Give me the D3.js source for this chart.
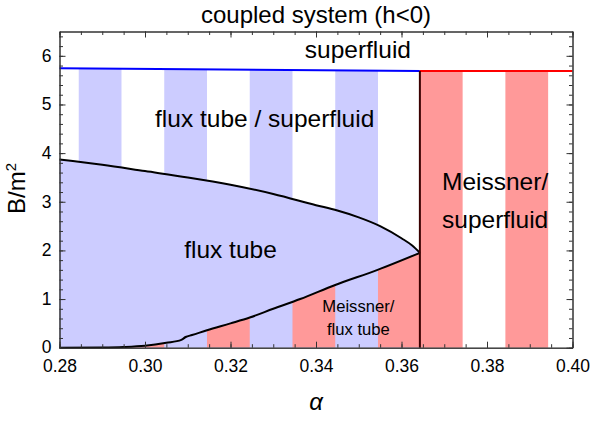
<!DOCTYPE html>
<html>
<head>
<meta charset="utf-8">
<script src="https://cdn.jsdelivr.net/npm/d3@7"></script>
<style>
  body { margin: 0; background: #fff; }
  svg { font-family: "Liberation Sans", Arial, sans-serif; }
  .axis path, .axis line { stroke: #333; }
  .axis text { font-size: 17.5px; fill: #000; }
  .region-label { font-size: 24.5px; fill: #000; text-anchor: middle; }
</style>
</head>
<body>
<div id="chart"></div>
<script>
// ---- data ----
const upperAlpha = [0.28, 0.29, 0.30, 0.31, 0.32, 0.33, 0.34, 0.345, 0.35, 0.355, 0.36, 0.3625, 0.3643];
const upperB     = [3.87, 3.76, 3.63, 3.50, 3.35, 3.16, 2.93, 2.82, 2.68, 2.50, 2.25, 2.10, 1.95];

const lowerAlpha = [0.28, 0.29, 0.295, 0.30, 0.305, 0.3085, 0.3095, 0.311, 0.3145, 0.32, 0.3245, 0.33, 0.3363, 0.3445, 0.3544, 0.3643];
const lowerB     = [0.0, 0.005, 0.015, 0.04, 0.10, 0.16, 0.22, 0.26, 0.36, 0.50, 0.62, 0.80, 1.0, 1.29, 1.60, 1.95];

const sfBlueAlpha = [0.28, 0.3643];
const sfBlueB     = [5.745, 5.69];
const sfRedAlpha  = [0.3643, 0.40];
const sfRedB      = [5.69, 5.69];

const alphaTransition = 0.3643;

const stripeWidth = 0.01;
const fluxStripes = [0.2845, 0.3045, 0.3245, 0.3445];
const meissnerLowStripes = [0.2945, 0.3145, 0.3345, 0.3545];
const meissnerRightStripes = [0.3643, 0.3843];

const xTicks = [0.28, 0.30, 0.32, 0.34, 0.36, 0.38, 0.40];
const yTicks = [0, 1, 2, 3, 4, 5, 6];

class PhaseDiagram {
    constructor(_config) {
        this.config = {
            parentElement: _config.parentElement,
            containerWidth: _config.containerWidth || 592,
            containerHeight: _config.containerHeight || 423,
            margin: _config.margin || {top: 31.5, right: 19.5, bottom: 75.3, left: 59.5}
        };
        this.initVis();
    }

    initVis() {
        let vis = this;
        vis.width = vis.config.containerWidth - vis.config.margin.left - vis.config.margin.right;
        vis.height = vis.config.containerHeight - vis.config.margin.top - vis.config.margin.bottom;

        vis.svg = d3.select(vis.config.parentElement)
            .append('svg')
                .attr('width', vis.config.containerWidth)
                .attr('height', vis.config.containerHeight);

        vis.chart = vis.svg.append('g')
            .attr('transform', `translate(${vis.config.margin.left},${vis.config.margin.top})`);

        vis.xScale = d3.scaleLinear().domain([0.28, 0.40]).range([0, vis.width]);
        vis.yScale = d3.scaleLinear().domain([0, 6.5]).range([vis.height, 0]);

        vis.renderVis();
    }

    renderVis() {
        let vis = this;
        const x = vis.xScale, y = vis.yScale;

        const upper = upperAlpha.map((a, i) => ({a, b: upperB[i]}));
        const lower = lowerAlpha.map((a, i) => ({a, b: lowerB[i]}));
        const sfBlue = sfBlueAlpha.map((a, i) => ({a, b: sfBlueB[i]}));
        const sfRed = sfRedAlpha.map((a, i) => ({a, b: sfRedB[i]}));

        const line = d3.line().x(d => x(d.a)).y(d => y(d.b)).curve(d3.curveMonotoneX);
        const straight = d3.line().x(d => x(d.a)).y(d => y(d.b));

        const defs = vis.svg.append('defs');

        // region between upper curve and superfluid line
        defs.append('clipPath').attr('id', 'clip-upper')
            .append('path')
            .attr('d', line(upper) + straight(sfBlue.slice().reverse()).replace('M', 'L') + 'Z');

        // region below lower curve
        defs.append('clipPath').attr('id', 'clip-lower')
            .append('path')
            .attr('d', line(lower) + straight([{a: alphaTransition, b: 0}, {a: 0.28, b: 0}]).replace('M', 'L') + 'Z');

        // flux tube region fill (under upper curve)
        vis.chart.append('path')
            .datum(upper)
            .attr('fill', '#ccccff')
            .attr('d', d3.area().x(d => x(d.a)).y0(y(0)).y1(d => y(d.b)).curve(d3.curveMonotoneX));

        // flux tube / superfluid stripes
        vis.chart.append('g').attr('clip-path', 'url(#clip-upper)')
            .selectAll('rect').data(fluxStripes).join('rect')
                .attr('x', d => x(d))
                .attr('width', x(stripeWidth + 0.28) - x(0.28))
                .attr('y', y(6.5))
                .attr('height', y(0) - y(6.5))
                .attr('fill', '#ccccff');

        // meissner / flux tube stripes
        vis.chart.append('g').attr('clip-path', 'url(#clip-lower)')
            .selectAll('rect').data(meissnerLowStripes).join('rect')
                .attr('x', d => x(d))
                .attr('width', d => x(Math.min(d + stripeWidth, alphaTransition)) - x(d))
                .attr('y', y(6.5))
                .attr('height', y(0) - y(6.5))
                .attr('fill', '#ff9999');

        // meissner / superfluid stripes
        vis.chart.append('g')
            .selectAll('rect').data(meissnerRightStripes).join('rect')
                .attr('x', d => x(d))
                .attr('width', x(stripeWidth + 0.28) - x(0.28))
                .attr('y', y(sfRedB[0]))
                .attr('height', y(0) - y(sfRedB[0]))
                .attr('fill', '#ff9999');

        // boundaries
        vis.chart.append('path').datum(sfBlue)
            .attr('fill', 'none').attr('stroke', '#0000ff').attr('stroke-width', 2)
            .attr('d', straight);
        vis.chart.append('path').datum(sfRed)
            .attr('fill', 'none').attr('stroke', '#ff0000').attr('stroke-width', 2)
            .attr('d', straight);
        vis.chart.append('path').datum(upper)
            .attr('fill', 'none').attr('stroke', '#000').attr('stroke-width', 2)
            .attr('d', line);
        vis.chart.append('path').datum(lower)
            .attr('fill', 'none').attr('stroke', '#000').attr('stroke-width', 2)
            .attr('d', line);
        vis.chart.append('line')
            .attr('x1', x(alphaTransition)).attr('x2', x(alphaTransition))
            .attr('y1', y(0)).attr('y2', y(sfRedB[0]))
            .attr('stroke', '#3a0000').attr('stroke-width', 2);

        // frame axes with inward ticks
        const xMinor = d3.range(0.28, 0.4001, 0.005);
        const yMinor = d3.range(0, 6.5, 0.2);

        const addAxis = (axisFn, scale, tickVals, size, fmt, transform) => {
            const ax = axisFn(scale).tickValues(tickVals).tickSize(size).tickSizeOuter(0)
                .tickFormat(fmt ? d3.format(fmt) : '');
            return vis.chart.append('g')
                .attr('class', 'axis')
                .attr('transform', transform)
                .call(ax);
        };

        addAxis(d3.axisBottom, x, xMinor, -3.5, null, `translate(0,${vis.height})`);
        addAxis(d3.axisTop, x, xMinor, -3.5, null, 'translate(0,0)');
        addAxis(d3.axisLeft, y, yMinor, -3.5, null, 'translate(0,0)');
        addAxis(d3.axisRight, y, yMinor, -3.5, null, `translate(${vis.width},0)`);

        const xB = addAxis(d3.axisBottom, x, xTicks, -6, '.2f', `translate(0,${vis.height})`);
        xB.selectAll('text').attr('y', 24.8).attr('dy', null);
        addAxis(d3.axisTop, x, xTicks, -6, null, 'translate(0,0)');
        const yL = addAxis(d3.axisLeft, y, yTicks, -6, 'd', 'translate(0,0)');
        yL.selectAll('text').attr('x', -8).attr('dy', '0.3em');
        addAxis(d3.axisRight, y, yTicks, -6, null, `translate(${vis.width},0)`);

        // titles
        vis.svg.append('text')
            .attr('x', vis.config.margin.left + vis.width / 2)
            .attr('y', 23)
            .attr('text-anchor', 'middle')
            .style('font-size', '24px')
            .text('coupled system (h<0)');

        vis.svg.append('text')
            .attr('transform', `translate(25,${vis.config.margin.top + y(2.75)}) rotate(-90)`)
            .style('font-size', '24px')
            .html('B/m<tspan dy="-9" font-size="15px">2</tspan>');

        vis.svg.append('text')
            .attr('x', vis.config.margin.left + vis.width / 2)
            .attr('y', 410)
            .attr('text-anchor', 'middle')
            .style('font-size', '24px')
            .style('font-style', 'italic')
            .text('α');

        // region labels
        const labels = [
            {t: 'superfluid', a: 0.3498, b: 5.95, s: 24.5},
            {t: 'flux tube / superfluid', a: 0.3280, b: 4.54, s: 24.5},
            {t: 'flux tube', a: 0.3200, b: 1.84, s: 24.5},
            {t: 'Meissner/', a: 0.3819, b: 3.24, s: 24.5},
            {t: 'superfluid', a: 0.3819, b: 2.46, s: 24.5},
            {t: 'Meissner/', a: 0.3499, b: 0.74, s: 16.6},
            {t: 'flux tube', a: 0.3499, b: 0.26, s: 16.6}
        ];
        vis.chart.selectAll('.region-label')
            .data(labels).join('text')
                .attr('class', 'region-label')
                .attr('x', d => x(d.a))
                .attr('y', d => y(d.b))
                .style('font-size', d => d.s + 'px')
                .text(d => d.t);
    }
}

new PhaseDiagram({parentElement: '#chart'});
</script>
</body>
</html>
